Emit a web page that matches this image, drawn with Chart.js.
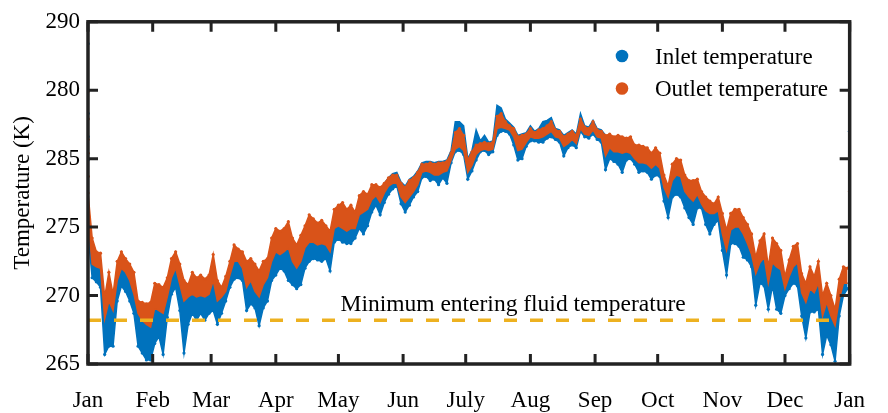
<!DOCTYPE html>
<html>
<head>
<meta charset="utf-8">
<title>Inlet and outlet temperature</title>
<script src="https://cdn.jsdelivr.net/npm/chart.js@4.4.0/dist/chart.umd.min.js"></script>
<style>
    html, body { margin: 0; padding: 0; background: #fff; }
    #wrap { width: 888px; height: 413px; }
</style>
</head>
<body>
<div id="wrap"><canvas id="tempChart" width="888" height="413"></canvas></div>
<script>
// axes
const monthDays = [0, 31, 59, 90, 120, 151, 181, 212, 243, 273, 304, 334, 365];
const monthLabels = ['Jan', 'Feb', 'Mar', 'Apr', 'May', 'Jun', 'July', 'Aug', 'Sep', 'Oct', 'Nov', 'Dec', 'Jan'];
const yTickValues = [265, 270, 275, 280, 285, 290];
const yTickLabels = ['265', '270', '275', '285', '280', '290'];

// minimum entering fluid temperature (K) and the days it spans
const minEnteringTemp = 268.2;
const minLineDays = [0, 360];

// temperature envelopes read every 2 days (K)
const outletHigh = [
    277.5, 274.2, 273.2, 273.1, 269.9, 271.7, 270.1, 272.5, 273.2, 272.7,
    272.3, 271.7, 269.6, 269.5, 269.4, 269.5, 270.9, 270.8, 270.6, 271.3,
    272.7, 273.2, 272.3, 271.1, 270.8, 271.7, 271.3, 271.5, 271.2, 271.5,
    273.0, 271.1, 270.6, 271.4, 272.5, 273.7, 273.4, 273.2, 272.5, 272.7,
    272.3, 271.8, 272.5, 272.7, 274.2, 274.9, 274.7, 274.9, 275.4, 274.2,
    273.7, 274.4, 275.1, 275.9, 275.6, 275.3, 275.5, 275.1, 274.7, 276.3,
    276.6, 276.8, 276.3, 276.6, 276.1, 277.3, 277.6, 277.4, 278.1, 278.1,
    277.9, 278.2, 278.6, 278.8, 278.8, 278.2, 277.9, 278.4, 278.6, 279.0,
    279.6, 279.6, 279.7, 279.6, 279.7, 279.7, 279.8, 280.4, 281.9, 282.2,
    281.7, 279.9, 280.5, 281.0, 281.1, 281.2, 281.1, 281.2, 283.1, 283.3,
    282.7, 282.4, 282.2, 281.6, 281.7, 281.8, 282.2, 281.9, 282.1, 282.2,
    282.4, 282.7, 282.1, 282.0, 281.6, 281.8, 282.0, 281.7, 282.9, 282.3,
    282.2, 282.7, 282.1, 282.0, 281.7, 281.8, 281.6, 281.7, 281.6, 281.5,
    281.6, 281.0, 281.0, 280.9, 280.8, 280.4, 280.8, 280.4, 278.8, 278.0,
    279.6, 280.0, 279.9, 278.8, 278.4, 278.4, 278.5, 277.6, 277.2, 276.9,
    276.7, 277.2, 276.0, 274.8, 276.0, 276.3, 276.3, 275.7, 275.2, 274.5,
    272.8, 274.0, 274.5, 272.1, 274.2, 273.8, 273.3, 271.4, 272.6, 273.6,
    273.8, 271.6, 270.9, 272.1, 271.4, 272.5, 270.0, 270.9, 270.0, 269.0,
    271.2, 272.1, 272.0
];
const outletLow = [
    275.5, 272.3, 272.1, 272.0, 268.3, 269.6, 268.9, 271.1, 272.0, 271.7,
    271.1, 270.1, 268.7, 268.2, 267.9, 267.7, 269.1, 268.9, 268.7, 269.9,
    271.3, 272.0, 270.8, 269.6, 269.9, 270.1, 269.9, 270.0, 269.9, 270.1,
    271.1, 269.6, 269.9, 270.3, 271.5, 272.5, 272.5, 272.0, 270.6, 271.1,
    270.3, 269.9, 270.8, 271.3, 272.5, 273.2, 273.0, 273.2, 273.5, 272.5,
    272.0, 272.5, 273.5, 273.9, 273.9, 273.7, 273.8, 273.7, 273.2, 274.9,
    275.1, 274.9, 274.7, 274.9, 274.9, 275.9, 276.1, 276.3, 277.0, 277.3,
    276.8, 277.5, 278.0, 278.2, 278.2, 277.2, 276.8, 277.2, 277.6, 278.1,
    279.0, 279.1, 279.0, 278.8, 278.8, 279.0, 279.1, 279.9, 280.7, 280.9,
    280.6, 279.0, 279.5, 280.3, 280.6, 280.7, 280.6, 280.7, 282.2, 282.3,
    282.2, 282.1, 281.6, 280.6, 280.7, 281.2, 281.6, 281.5, 281.5, 281.6,
    281.8, 282.0, 281.6, 281.5, 280.9, 281.1, 281.4, 281.1, 282.2, 281.8,
    281.7, 282.1, 281.6, 281.5, 280.2, 280.8, 280.5, 280.5, 280.4, 280.5,
    280.4, 280.0, 279.7, 279.7, 279.6, 279.3, 279.6, 279.3, 277.9, 277.2,
    278.4, 278.8, 278.7, 277.6, 277.2, 276.9, 277.4, 276.7, 276.2, 276.0,
    276.0, 276.2, 274.5, 273.3, 274.8, 275.0, 275.0, 274.5, 273.8, 273.0,
    271.6, 272.4, 272.8, 270.9, 272.4, 272.1, 271.9, 270.5, 271.4, 272.1,
    272.4, 270.2, 269.5, 270.5, 270.2, 270.9, 268.5, 269.5, 268.5, 267.8,
    269.7, 270.9, 270.9
];
const inletHigh = [
    275.5, 272.3, 272.1, 272.0, 268.3, 269.6, 268.9, 271.1, 272.0, 271.7,
    271.1, 270.1, 268.7, 268.2, 267.9, 267.7, 269.1, 268.9, 268.7, 269.9,
    271.3, 272.0, 270.8, 269.6, 269.9, 270.1, 269.9, 270.0, 269.9, 270.1,
    271.1, 269.6, 269.9, 270.3, 271.5, 272.5, 272.5, 272.0, 270.6, 271.1,
    270.3, 269.9, 270.8, 271.3, 272.5, 273.2, 273.0, 273.2, 273.5, 272.5,
    272.0, 272.5, 273.5, 273.9, 273.9, 273.7, 273.8, 273.7, 273.2, 274.9,
    275.1, 274.9, 274.7, 274.9, 274.9, 275.9, 276.1, 276.3, 277.0, 277.3,
    276.8, 278.2, 278.6, 278.9, 279.0, 278.3, 278.0, 278.5, 278.7, 279.1,
    279.7, 279.8, 279.8, 279.7, 279.8, 279.8, 279.9, 280.6, 282.7, 282.7,
    282.4, 280.0, 280.6, 282.1, 281.3, 281.7, 281.2, 281.3, 283.9, 283.7,
    282.9, 282.6, 282.3, 281.7, 281.8, 281.9, 282.4, 282.0, 282.2, 282.7,
    282.8, 283.0, 282.2, 282.1, 281.7, 281.9, 282.1, 281.8, 283.3, 282.4,
    282.3, 282.8, 282.2, 282.1, 281.7, 280.8, 280.5, 280.5, 280.4, 280.5,
    280.4, 280.0, 279.7, 279.7, 279.6, 279.3, 279.6, 279.3, 277.9, 277.2,
    278.4, 278.8, 278.7, 277.6, 277.2, 276.9, 277.4, 276.7, 276.2, 276.0,
    276.0, 276.2, 274.5, 273.3, 274.8, 275.0, 275.0, 274.5, 273.8, 273.0,
    271.6, 272.4, 272.8, 270.9, 272.4, 272.1, 271.9, 270.5, 271.4, 272.1,
    272.4, 270.2, 269.5, 270.5, 270.2, 270.9, 268.5, 269.5, 268.5, 267.8,
    269.7, 270.9, 270.9
];
const inletLow = [
    274.5, 271.3, 271.0, 270.6, 265.7, 266.3, 266.3, 269.6, 270.7, 270.3,
    269.6, 268.7, 266.3, 265.8, 265.3, 265.3, 266.5, 267.0, 265.7, 268.4,
    270.1, 270.6, 268.9, 265.8, 267.9, 268.7, 268.2, 268.7, 268.2, 268.7,
    268.9, 267.9, 268.7, 269.6, 270.6, 271.2, 271.3, 271.1, 268.9, 269.4,
    269.1, 267.8, 269.1, 269.6, 271.1, 271.5, 272.0, 271.8, 271.1, 270.8,
    270.5, 270.8, 272.0, 272.5, 272.7, 272.6, 272.5, 272.7, 271.8, 273.9,
    274.1, 273.9, 273.8, 273.8, 274.2, 274.9, 274.5, 275.1, 276.1, 276.6,
    275.9, 276.8, 277.4, 277.8, 278.0, 276.7, 276.1, 276.6, 277.2, 277.6,
    278.6, 278.7, 278.4, 278.5, 278.1, 278.6, 278.2, 279.7, 280.5, 280.6,
    280.3, 278.5, 279.1, 279.9, 280.5, 280.6, 280.3, 280.5, 281.7, 282.0,
    282.0, 281.8, 281.0, 279.9, 280.0, 280.9, 281.3, 281.3, 281.2, 281.2,
    281.5, 281.6, 281.4, 281.2, 280.2, 280.8, 281.0, 280.8, 282.0, 281.6,
    281.5, 281.8, 281.4, 281.2, 279.2, 280.0, 279.8, 279.6, 279.0, 279.9,
    280.0, 279.6, 279.0, 279.1, 279.0, 278.5, 278.8, 278.7, 276.9, 275.7,
    277.2, 277.4, 277.2, 276.4, 275.7, 275.2, 276.4, 276.4, 275.2, 274.5,
    275.2, 275.5, 273.3, 271.5, 273.8, 273.8, 273.6, 272.8, 272.6, 272.1,
    269.3, 270.9, 270.7, 269.0, 270.7, 269.0, 268.7, 270.0, 270.5, 270.9,
    270.7, 268.5, 266.9, 268.8, 268.8, 269.0, 265.7, 267.1, 266.4, 265.2,
    268.5, 270.0, 270.5
];

// start-up and end-of-year readings that sit on the plot edges: [day, K]
const inletEdge = [[0, 288.4], [0, 283.3], [0, 281.6], [0, 279.9], [365, 282.0]];
const outletEdge = [[0, 284.9], [0, 282.9], [0, 281.4], [0, 280.4], [0, 278.7], [365, 277.6]];

const days = outletHigh.map((_, i) => i * 2);

const blue = '#0072BD';
const orange = '#D95319';
const gold = '#EDB120';
const axisColor = '#222222';
const serif = '"Liberation Serif", "Times New Roman", serif';

function toPoints(values) {
    return days.map((d, i) => ({ x: d, y: values[i] }));
}

function pairsToPoints(pairs) {
    return pairs.map(p => ({ x: p[0], y: p[1] }));
}

// box, inward ticks, legend and the label of the dashed line
const framePlugin = {
    id: 'frame',
    afterDraw(chart) {
        const { ctx, chartArea: a, scales: { x, y } } = chart;
        ctx.save();
        ctx.setLineDash([]);
        ctx.strokeStyle = axisColor;
        ctx.lineWidth = 3;
        ctx.lineCap = 'butt';
        ctx.beginPath();
        monthDays.forEach(d => {
            const px = x.getPixelForValue(d);
            ctx.moveTo(px, a.top); ctx.lineTo(px, a.top + 10);
            ctx.moveTo(px, a.bottom); ctx.lineTo(px, a.bottom - 10);
        });
        yTickValues.forEach(v => {
            const py = y.getPixelForValue(v);
            ctx.moveTo(a.left, py); ctx.lineTo(a.left + 10, py);
            ctx.moveTo(a.right, py); ctx.lineTo(a.right - 10, py);
        });
        ctx.stroke();
        ctx.lineWidth = 3.5;
        ctx.lineJoin = 'miter';
        ctx.strokeRect(a.left, a.top, a.right - a.left, a.bottom - a.top);

        ctx.fillStyle = '#000';
        ctx.font = '23.5px ' + serif;
        ctx.textAlign = 'left';
        ctx.textBaseline = 'alphabetic';
        ctx.fillText('Minimum entering fluid temperature', x.getPixelForValue(121), y.getPixelForValue(268.9));

        ctx.font = '23px ' + serif;
        const legendItems = [['Inlet temperature', blue], ['Outlet temperature', orange]];
        legendItems.forEach((item, i) => {
            const cy = 56 + i * 32.5;
            ctx.fillStyle = item[1];
            ctx.beginPath();
            ctx.arc(622, cy, 6.3, 0, Math.PI * 2);
            ctx.fill();
            ctx.fillStyle = '#000';
            ctx.fillText(item[0], 655, cy + 7.5);
        });
        ctx.restore();
    }
};

Chart.defaults.font.family = serif;
Chart.defaults.font.size = 23;
Chart.defaults.color = '#000';

new Chart(document.getElementById('tempChart').getContext('2d'), {
    type: 'line',
    data: {
        datasets: [
            {
                label: 'Minimum entering fluid temperature',
                data: minLineDays.map(d => ({ x: d, y: minEnteringTemp })),
                borderColor: gold,
                borderWidth: 3.5,
                borderDash: [13, 13],
                pointRadius: 0,
                fill: false
            },
            {
                label: 'Outlet temperature',
                data: toPoints(outletHigh),
                borderColor: orange,
                backgroundColor: orange,
                borderWidth: 1.5,
                pointRadius: 1.6,
                pointBorderWidth: 0,
                pointBackgroundColor: orange,
                fill: '+1'
            },
            {
                label: 'Outlet low',
                data: toPoints(outletLow),
                borderColor: orange,
                borderWidth: 1.5,
                pointRadius: 0,
                fill: false
            },
            {
                label: 'Inlet temperature',
                data: toPoints(inletHigh),
                borderColor: blue,
                backgroundColor: blue,
                borderWidth: 1.5,
                pointRadius: 0,
                fill: '+1'
            },
            {
                label: 'Inlet low',
                data: toPoints(inletLow),
                borderColor: blue,
                borderWidth: 1.5,
                pointRadius: 1.6,
                pointBorderWidth: 0,
                pointBackgroundColor: blue,
                fill: false
            },
            {
                label: 'Outlet edge',
                data: pairsToPoints(outletEdge),
                showLine: false,
                pointRadius: 1.8,
                pointBorderWidth: 0,
                pointBackgroundColor: orange
            },
            {
                label: 'Inlet edge',
                data: pairsToPoints(inletEdge),
                showLine: false,
                pointRadius: 1.8,
                pointBorderWidth: 0,
                pointBackgroundColor: blue
            }
        ]
    },
    options: {
        responsive: false,
        animation: false,
        events: [],
        layout: { padding: { top: 16, right: 25, left: 0, bottom: 0 } },
        elements: { line: { tension: 0 } },
        plugins: {
            legend: { display: false },
            tooltip: { enabled: false }
        },
        scales: {
            x: {
                type: 'linear',
                min: 0,
                max: 365,
                grid: { display: false, drawTicks: false },
                border: { display: false },
                afterBuildTicks: s => { s.ticks = monthDays.map(v => ({ value: v })); },
                afterFit: s => { s.height = 49; },
                ticks: {
                    autoSkip: false,
                    maxRotation: 0,
                    padding: 23,
                    color: '#000',
                    callback: (v, i) => monthLabels[i]
                }
            },
            y: {
                type: 'linear',
                min: 265,
                max: 290,
                grid: { display: false, drawTicks: false },
                border: { display: false },
                afterBuildTicks: s => { s.ticks = yTickValues.map(v => ({ value: v })); },
                afterFit: s => { s.width = 88; },
                ticks: {
                    padding: 8,
                    color: '#000',
                    callback: (v, i) => yTickLabels[i]
                },
                title: {
                    display: true,
                    text: 'Temperature (K)',
                    color: '#000',
                    font: { size: 23 },
                    padding: { top: 9, bottom: 0 }
                }
            }
        }
    },
    plugins: [framePlugin]
});
</script>
</body>
</html>
